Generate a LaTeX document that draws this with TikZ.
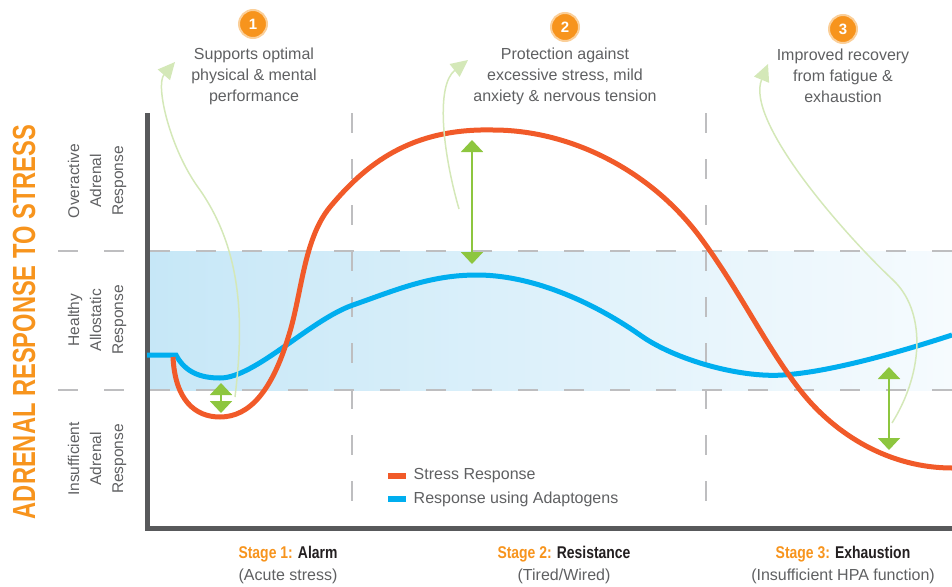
\documentclass[tikz,border=0pt]{standalone}
\usepackage{fontspec}
\setmainfont{Liberation Sans}
\usepackage{graphicx}
\usetikzlibrary{arrows.meta,positioning}
\definecolor{axisgray}{RGB}{88,89,91}
\definecolor{dashgray}{RGB}{190,190,192}
\definecolor{textgray}{RGB}{95,96,98}
\definecolor{stressorange}{RGB}{241,90,41}
\definecolor{adaptblue}{RGB}{0,174,239}
\definecolor{titleorange}{RGB}{247,148,29}
\definecolor{gapgreen}{RGB}{141,198,63}
\definecolor{hintgreen}{RGB}{212,232,184}
\definecolor{bandleft}{RGB}{198,231,247}
\definecolor{bandright}{RGB}{246,251,254}
\definecolor{stageblack}{RGB}{35,31,32}
\tikzset{>/.tip={Triangle[width=22pt,length=12pt]}}
\newcommand{\stg}[2]{\scalebox{0.82}[1]{\textcolor{titleorange}{#1} \textcolor{stageblack}{#2}}}

\begin{document}
\begin{tikzpicture}[x=1pt,y=-1pt,
  axisline/.style={axisgray,line width=5pt},
  guide/.style={dashgray,line width=2pt,dash pattern=on 20pt off 26pt},
  stresscurve/.style={stressorange,line width=5pt},
  adaptcurve/.style={adaptblue,line width=5pt},
  gap/.style={gapgreen,line width=2pt,<->},
  hint/.style={hintgreen,line width=1.5pt,-{Triangle[width=16pt,length=17pt]}},
  badge/.style={circle,fill=titleorange,draw=titleorange!45,line width=2pt,minimum size=28pt,inner sep=0pt,text=white,font=\fontsize{15}{15}\selectfont\bfseries},
  note/.style={align=center,text=textgray,font=\fontsize{16}{21}\selectfont},
  zone/.style={rotate=90,align=center,text=textgray,font=\fontsize{15.5}{22}\selectfont},
  stage/.style={font=\fontsize{17}{17}\selectfont\bfseries},
  sub/.style={text=textgray,font=\fontsize{16}{16}\selectfont},
  key/.style={minimum width=18pt,minimum height=6pt,inner sep=0pt},
  keytext/.style={text=textgray,font=\fontsize{16}{16}\selectfont}]
\useasboundingbox (0,0) rectangle (952,586);

\shade[left color=bandleft,right color=bandright] (147,251) rectangle (952,390);
\draw[guide] (58,251) -- (952,251);
\draw[guide] (58,390) -- (952,390);
\draw[guide] (352,113) -- (352,528);
\draw[guide] (706,113) -- (706,528);

\coordinate (top) at (147,113);
\coordinate (origin) at (147,528);
\coordinate (far) at (952,528);
\draw[axisline] (top) -- (origin) -- (far);

\draw[adaptcurve] (147,355) -- (176,355) .. controls (185,372) and (200,378) .. (220,378)
  .. controls (255,378) and (310,320) .. (353,305)
  .. controls (396,290) and (430,275) .. (477,275)
  .. controls (530,275) and (590,300) .. (640,335)
  .. controls (675,360) and (740,378) .. (783,375)
  .. controls (830,372) and (900,352) .. (952,335);
\draw[stresscurve] (173,357) .. controls (175,400) and (195,417) .. (220,417)
  .. controls (250,417) and (272,390) .. (288,338)
  .. controls (302,295) and (303,240) .. (330,207)
  .. controls (365,165) and (410,128) .. (493,130)
  .. controls (570,130) and (650,170) .. (700,237)
  .. controls (740,291) and (765,345) .. (800,390)
  .. controls (835,435) and (890,468) .. (952,468);

\coordinate (g1a) at (221,383);
\coordinate (g1b) at (221,413);
\coordinate (g2a) at (472,140);
\coordinate (g2b) at (472,264);
\coordinate (g3a) at (889,367);
\coordinate (g3b) at (889,450);
\draw[gap] (g1a) -- (g1b);
\draw[gap] (g2a) -- (g2b);
\draw[gap] (g3a) -- (g3b);

\coordinate (h1) at (235,397);
\coordinate (e1) at (175,62);
\coordinate (h2) at (459,209);
\coordinate (e2) at (468,60);
\coordinate (h3) at (892,423);
\coordinate (e3) at (768,64);
\draw[hint] (h1) .. controls (243,330) and (245,255) .. (200,190) .. controls (170,150) and (155,85) .. (e1);
\draw[hint] (h2) .. controls (442,150) and (436,85) .. (e2);
\draw[hint] (h3) .. controls (925,370) and (925,310) .. (893,280) .. controls (840,230) and (745,120) .. (e3);

\node[badge] (b1) at (253,24) {1};
\node[badge] (b2) at (565,27) {2};
\node[badge] (b3) at (843,29) {3};
\node[note] (n1) at (254,76) {Supports optimal\\physical \& mental\\performance};
\node[note] (n2) at (565,76) {Protection against\\excessive stress, mild\\anxiety \& nervous tension};
\node[note] (n3) at (843,76) {Improved recovery\\from fatigue \&\\exhaustion};

\node[rotate=90,text=titleorange] (title) at (24,322) {\scalebox{0.74}[1]{\fontsize{32}{32}\selectfont\bfseries ADRENAL RESPONSE TO STRESS}};
\node[zone] (over) at (97,181) {Overactive\\Adrenal\\Response};
\node[zone] (healthy) at (97,320) {Healthy\\Allostatic\\Response};
\node[zone] (low) at (97,459) {Insufficient\\Adrenal\\Response};

\node[key,fill=stressorange] (kstress) at (397,476) {};
\node[keytext,right=4pt of kstress] (lstress) {Stress Response};
\node[key,fill=adaptblue] (kadapt) at (397,499) {};
\node[keytext,right=4pt of kadapt] (ladapt) {Response using Adaptogens};

\node[stage] (s1) at (288,554) {\stg{Stage 1:}{Alarm}};
\node[stage] (s2) at (564,554) {\stg{Stage 2:}{Resistance}};
\node[stage] (s3) at (843,554) {\stg{Stage 3:}{Exhaustion}};
\node[sub] (t1) at (288,576) {(Acute stress)};
\node[sub] (t2) at (564,576) {(Tired/Wired)};
\node[sub] (t3) at (843,576) {(Insufficient HPA function)};
\end{tikzpicture}
\end{document}
